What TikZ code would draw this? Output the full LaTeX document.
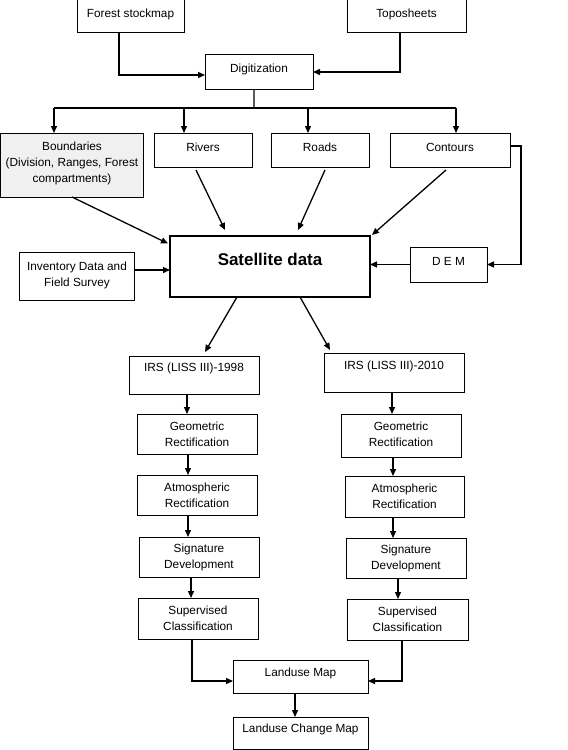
\documentclass[tikz,border=0pt]{standalone}
\usepackage{fontspec}
\setmainfont{Liberation Sans}
\usetikzlibrary{arrows.meta}
\tikzset{
  boxst/.style={draw, line width=1bp, inner sep=0pt, outer sep=0pt},
  txt/.style={align=center, font=\fontsize{11.85pt}{16pt}\selectfont, inner sep=0pt},
  arr/.style={line width=1.3bp, -{Triangle[length=7bp,width=6bp]}},
  ln/.style={line width=1.3bp},
}
\newcommand\mkbox[8][]{%
  \pgfmathsetmacro\bxw{#5-#3}\pgfmathsetmacro\bxh{#6-#4}%
  \pgfmathsetmacro\bxx{(#3+#5)/2}\pgfmathsetmacro\bxy{(#4+#6)/2}%
  \node[boxst, minimum width=\bxw bp, minimum height=\bxh bp,
        label={[txt,yshift=#7bp]center:{#8}},#1] (#2) at (\bxx,\bxy) {};%
}
\begin{document}
\begin{tikzpicture}[x=1bp,y=-1bp]
\useasboundingbox (0,0) rectangle (568,750);
% boxes
\mkbox{fs}{77}{-5}{184}{33}{0}{Forest stockmap}
\mkbox{topo}{347}{-5}{466}{33}{0}{Toposheets}
\mkbox{dig}{205}{55}{313}{89}{3}{Digitization}
\mkbox[fill={rgb,255:red,240;green,240;blue,240}]{bnd}{0.5}{133}{143.5}{197}{1.5}{Boundaries\\(Division, Ranges, Forest\\compartments)}
\mkbox{riv}{154}{133}{252}{167}{3}{Rivers}
\mkbox{road}{271}{133}{369}{167}{3}{Roads}
\mkbox{cont}{390}{133}{510}{167}{3}{Contours}
\mkbox[line width=2.6bp]{sat}{170}{236}{370}{297}{7}{\fontsize{17pt}{20pt}\selectfont\bfseries Satellite data}
\mkbox{inv}{20}{252}{134}{300}{1}{\baselineskip=18pt Inventory Data and\\Field Survey}
\mkbox{dem}{410}{247}{487}{282}{3}{D E M}
\mkbox{irs1}{129}{356}{259}{394}{7}{IRS (LISS III)-1998}
\mkbox{irs2}{324}{353}{464}{392}{6.5}{IRS (LISS III)-2010}
\mkbox{geo1}{137}{414}{257}{454}{0}{Geometric\\Rectification}
\mkbox{geo2}{341}{414}{461}{457}{1}{Geometric\\Rectification}
\mkbox{atm1}{137}{475}{257}{515}{0}{Atmospheric\\Rectification}
\mkbox{atm2}{345}{476}{464}{517}{0}{Atmospheric\\Rectification}
\mkbox{sig1}{139}{537}{259}{577}{0}{Signature\\Development}
\mkbox{sig2}{346}{538}{466}{578}{0}{Signature\\Development}
\mkbox{sup1}{138}{598}{258}{639}{0}{Supervised\\Classification}
\mkbox{sup2}{347}{599}{468}{640}{0}{Supervised\\Classification}
\mkbox{lum}{233}{660}{368}{693}{3.5}{Landuse Map}
\mkbox{lcm}{233}{717}{368}{749}{4}{Landuse Change Map}
% top connectors
\draw[arr] ([xshift=-11.5bp]fs.south) |- ([yshift=-3bp]dig.west);
\draw[arr] ([xshift=-6.5bp]topo.south) |- (dig.east);
\coordinate (bus) at (254,108);
\coordinate (bL) at (54,108);
\coordinate (bR) at (456,108);
\coordinate (b2) at (184,108);
\coordinate (b3) at (308,108);
\draw[ln] ([xshift=-5bp]dig.south) -- (bus);
\draw[ln] (bL) -- (bR);
\draw[arr] (bL) -- (bL |- bnd.north);
\draw[arr] (b2) -- (b2 |- riv.north);
\draw[arr] (b3) -- (b3 |- road.north);
\draw[arr] (bR) -- (bR |- cont.north);
% into satellite
\draw[arr] (bnd.south) -- ([xshift=-2bp,yshift=23bp]sat.west);
\draw[arr] ([xshift=-7bp,yshift=-3bp]riv.south) -- ([xshift=-45bp,yshift=6bp]sat.north);
\draw[arr] ([xshift=5bp,yshift=-3bp]road.south) -- ([xshift=28bp,yshift=6bp]sat.north);
\draw[arr] ([xshift=-4bp,yshift=-3bp]cont.south) -- ([xshift=2bp,yshift=1bp]sat.north east);
\draw[arr] ([yshift=4bp]cont.east) -- ++(11bp,0) |- (dem.east);
\draw[arr] ([yshift=6bp]inv.east) -- ([yshift=6bp]inv.east -| sat.west);
\draw[arr] (dem.west) -- (dem.west -| sat.east);
% out of satellite
\draw[arr] ([xshift=-33bp]sat.south) -- ([xshift=11bp,yshift=4bp]irs1.north);
\draw[arr] ([xshift=30bp]sat.south) -- ([xshift=-64bp,yshift=3bp]irs2.north);
% chains
\draw[arr] ([xshift=-7bp]irs1.south) -- ([xshift=-7bp]irs1.south |- geo1.north);
\draw[arr] ([xshift=-2bp]irs2.south) -- ([xshift=-2bp]irs2.south |- geo2.north);
\draw[arr] ([xshift=-9bp]geo1.south) -- ([xshift=-9bp]geo1.south |- atm1.north);
\draw[arr] ([xshift=-8bp]geo2.south) -- ([xshift=-8bp]geo2.south |- atm2.north);
\draw[arr] ([xshift=-9bp]atm1.south) -- ([xshift=-9bp]atm1.south |- sig1.north);
\draw[arr] ([xshift=-11.5bp]atm2.south) -- ([xshift=-11.5bp]atm2.south |- sig2.north);
\draw[arr] ([xshift=-8bp]sig1.south) -- ([xshift=-8bp]sig1.south |- sup1.north);
\draw[arr] ([xshift=-8bp]sig2.south) -- ([xshift=-8bp]sig2.south |- sup2.north);
\draw[arr] ([xshift=-6bp]sup1.south) |- ([yshift=-4.5bp]lum.west);
\draw[arr] ([xshift=-5.5bp]sup2.south) |- ([yshift=-4.5bp]lum.east);
\draw[arr] ([xshift=-5.5bp]lum.south) -- ([xshift=-5.5bp]lum.south |- lcm.north);
\end{tikzpicture}
\end{document}
